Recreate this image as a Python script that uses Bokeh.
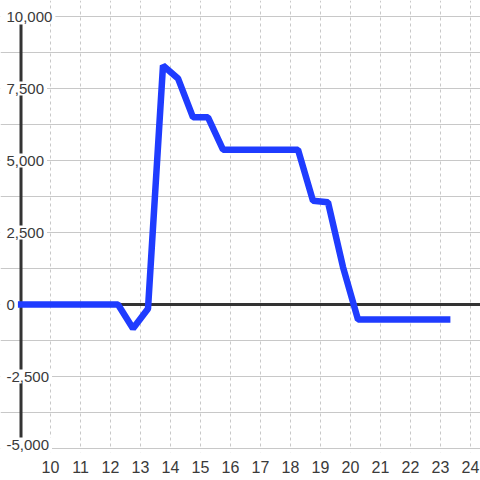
from bokeh.plotting import figure
from bokeh.models import Range1d, Label, FixedTicker
from bokeh.embed import file_html
from bokeh.resources import INLINE

# ---- data ----
hours = [8.9, 12.25, 12.75, 13.25, 13.75, 14.25, 14.75, 15.25, 15.75,
         18.25, 18.75, 19.25, 19.75, 20.25, 23.33]
values = [0, 0, -830, -150, 8300, 7850, 6500, 6500, 5375,
          5375, 3600, 3550, 1300, -525, -525]
x_ticks = list(range(10, 25))
y_ticks = [-5000, -2500, 0, 2500, 5000, 7500, 10000]
y_grid = [-5000, -3750, -2500, -1250, 0, 1250, 2500, 3750, 5000, 6250, 7500, 8750, 10000]
y_tick_labels = ["-5,000", "-2,500", "0", "2,500", "5,000", "7,500", "10,000"]

FONT = "Liberation Sans"
TXT = "#3a3a3a"
FS = 15
YMIN = -5000
X0, X1 = 8.3333, 24.3333
W, H, BOTTOM = 480, 480, 28
PX_Y = 2500 / 72                      # data units per screen px (y)
PX_X = (X1 - X0) / W                  # data units per screen px (x)
Y1 = 304 * PX_Y                       # frame top
Y0 = YMIN - 4 * PX_Y                  # frame bottom, a little below the last grid line

# approximate Arial/Liberation advance widths (em) for sizing label backgrounds
CW = {",": 0.278, "-": 0.333}
def text_px(s):
    return sum(CW.get(c, 0.556) for c in s) * FS

p = figure(width=W, height=H, output_backend="svg", toolbar_location=None,
           x_range=Range1d(X0, X1), y_range=Range1d(Y0, Y1),
           min_border_left=0, min_border_right=0, min_border_top=0, min_border_bottom=BOTTOM)
p.outline_line_color = None
p.background_fill_color = "white"
p.border_fill_color = "white"

# x axis: labels only
p.xaxis.ticker = FixedTicker(ticks=x_ticks)
p.xaxis.axis_line_color = None
p.xaxis.major_tick_line_color = None
p.xaxis.minor_tick_line_color = None
p.xaxis.major_label_text_font = FONT
p.xaxis.major_label_text_font_size = "16px"
p.xaxis.major_label_text_color = TXT
p.xaxis.major_label_standoff = 2
p.yaxis.visible = False

# grids
p.xgrid.ticker = FixedTicker(ticks=x_ticks)
p.xgrid.grid_line_color = "#c8c8c8"
p.xgrid.grid_line_dash = "3 3"
p.xgrid.grid_line_width = 1
p.ygrid.ticker = FixedTicker(ticks=y_grid)
p.ygrid.grid_line_color = "#c8c8c8"
p.ygrid.grid_line_width = 1

# hide the dashed grid below the last horizontal grid line
p.quad(left=[X0], right=[X1], bottom=[Y0], top=[YMIN - 0.6 * PX_Y],
       fill_color="white", line_color=None)

# zero line and vertical axis line
p.segment(x0=[9.0], y0=[0], x1=[X1], y1=[0], line_color="#333333", line_width=3)
p.segment(x0=[9.017], y0=[9720], x1=[9.017], y1=[YMIN], line_color="#333333", line_width=3)

# data line
p.line(hours, values, line_color="#1f3cff", line_width=6.5, line_join="bevel", line_cap="butt")

# white boxes behind y tick labels (interrupt grid and axis line)
rights = [X0 + (6 + text_px(t) + 3) * PX_X for t in y_tick_labels]
half_h = [(11 if v == YMIN else 7) * PX_Y for v in y_ticks]
p.quad(left=[X0] * len(y_ticks), right=rights,
       bottom=[v - h for v, h in zip(y_ticks, half_h)],
       top=[v + h for v, h in zip(y_ticks, half_h)],
       fill_color="white", line_color=None)

# y tick labels
for v, t in zip(y_ticks, y_tick_labels):
    p.add_layout(Label(x=6, y=v, x_units="screen", text=t, text_font=FONT,
                       text_font_size=f"{FS}px", text_color=TXT, text_baseline="middle",
                       text_align="left",
                       y_offset=4 if v == YMIN else 0))

open("out.html", "w").write(file_html(p, INLINE))
